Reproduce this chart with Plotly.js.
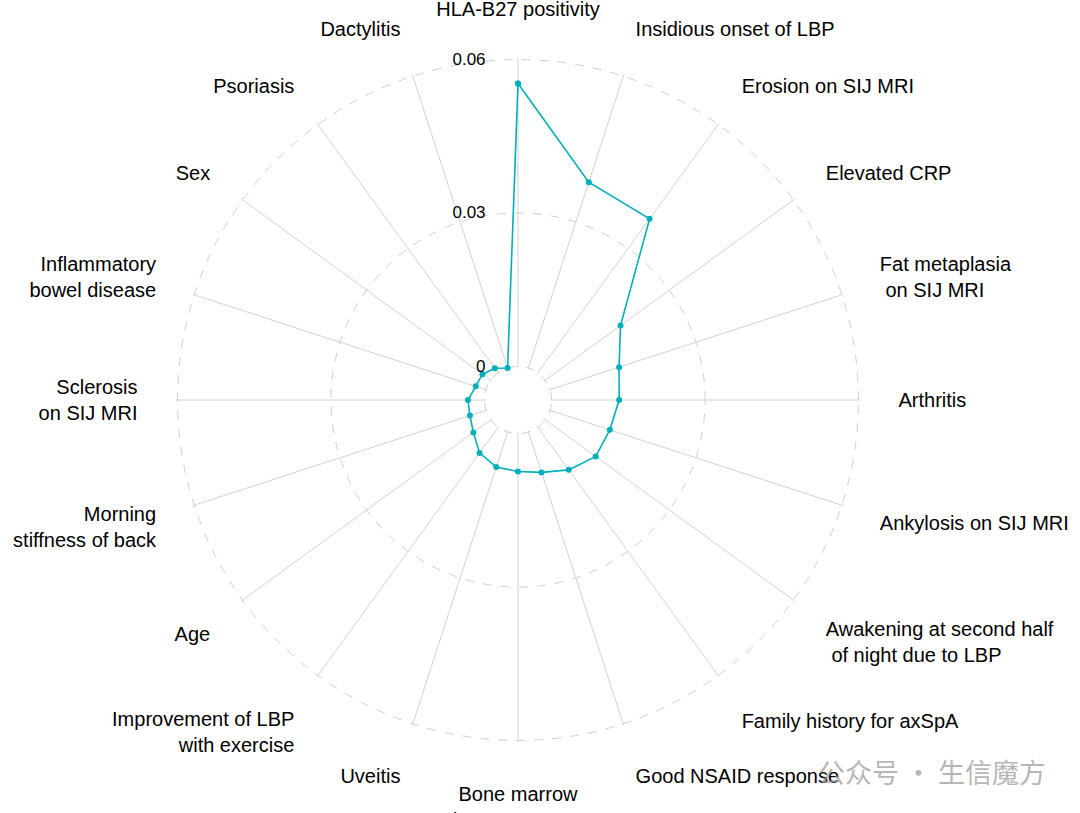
<!DOCTYPE html>
<html>
<head>
<meta charset="utf-8">
<script src="https://cdn.plot.ly/plotly-3.0.1.min.js"></script>
<style>
  html, body { margin: 0; padding: 0; background: #ffffff; }
  #chart { width: 1080px; height: 813px; }
</style>
</head>
<body>
<div id="chart"></div>
<script>
// features, clockwise from the top
const features = [
    "HLA-B27 positivity", "Insidious onset of LBP", "Erosion on SIJ MRI", "Elevated CRP",
    "Fat metaplasia on SIJ MRI", "Arthritis", "Ankylosis on SIJ MRI",
    "Awakening at second half of night due to LBP", "Family history for axSpA",
    "Good NSAID response", "Bone marrow edema on SIJ MRI", "Uveitis",
    "Improvement of LBP with exercise", "Age", "Morning stiffness of back",
    "Sclerosis on SIJ MRI", "Inflammatory bowel disease", "Sex", "Psoriasis", "Dactylitis"
]
const featureLabels = [
    "HLA-B27 positivity", "Insidious onset of LBP", "Erosion on SIJ MRI", "Elevated CRP",
    "Fat metaplasia<br> on SIJ MRI", "Arthritis", "Ankylosis on SIJ MRI",
    "Awakening at second half<br> of night due to LBP", "Family history for axSpA",
    "Good NSAID response", "Bone marrow<br>edema on SIJ MRI", "Uveitis",
    "Improvement of LBP<br>with exercise", "Age", "Morning<br>stiffness of back",
    "Sclerosis<br>on SIJ MRI", "Inflammatory<br>bowel disease", "Sex", "Psoriasis", "Dactylitis"
]
const importance = [
    0.0553, 0.0382, 0.0372, 0.0182, 0.0142, 0.0132, 0.0123, 0.0122, 0.0103, 0.0083,
    0.0074, 0.0072, 0.0062, 0.0042, 0.0033, 0.0032, 0.0021, 0.0020, 0.0011, 0.0000
]
const radialTicks = [0, 0.03, 0.06]
const radialTickText = ["0", "0.03", "0.06"]

const lineColor = "#00AFBB"

const data = [{
    type: "scatterpolar",
    mode: "lines+markers",
    r: importance.concat([importance[0]]),
    theta: features.concat([features[0]]),
    line: { color: lineColor, width: 1.6 },
    marker: { color: lineColor, size: 6 },
    hoverinfo: "theta+r",
    showlegend: false
}]

const layout = {
    width: 1080,
    height: 813,
    margin: { l: 176, r: 220, t: 58, b: 71, pad: 0 },
    paper_bgcolor: "#ffffff",
    font: { family: "Liberation Sans, Arial, sans-serif", color: "#000000" },
    polar: {
        bgcolor: "#ffffff",
        hole: 0.094,
        radialaxis: {
            // padded a little so the 0 and 0.06 rings are not clipped away
            range: [-0.0003, 0.0603],
            tickmode: "array",
            tickvals: radialTicks,
            ticktext: radialTickText,
            angle: 90,
            tickangle: 90,
            side: "counterclockwise",
            showline: false,
            ticks: "outside",
            ticklen: 26,
            tickcolor: "rgba(0,0,0,0)",
            gridcolor: "#cfcfcf",
            griddash: "dash",
            gridwidth: 1,
            tickfont: { size: 17, color: "#000000" }
        },
        angularaxis: {
            type: "category",
            categoryarray: features,
            tickmode: "array",
            tickvals: features,
            ticktext: featureLabels,
            direction: "clockwise",
            rotation: 90,
            showline: false,
            gridcolor: "#d2d2d2",
            gridwidth: 1,
            ticks: "outside",
            ticklen: 34,
            tickcolor: "rgba(0,0,0,0)",
            tickfont: { size: 20, color: "#000000" }
        }
    },
    annotations: [{
        text: "公众号 · 生信魔方",
        xref: "paper", yref: "paper",
        x: 1.275, y: -0.043,
        xanchor: "right", yanchor: "middle",
        showarrow: false,
        font: { family: "Noto Sans CJK SC", size: 27, color: "rgba(150,150,150,0.7)" }
    }]
}

const config = { responsive: false, displayModeBar: false }

Plotly.newPlot("chart", data, layout, config)
</script>
</body>
</html>
